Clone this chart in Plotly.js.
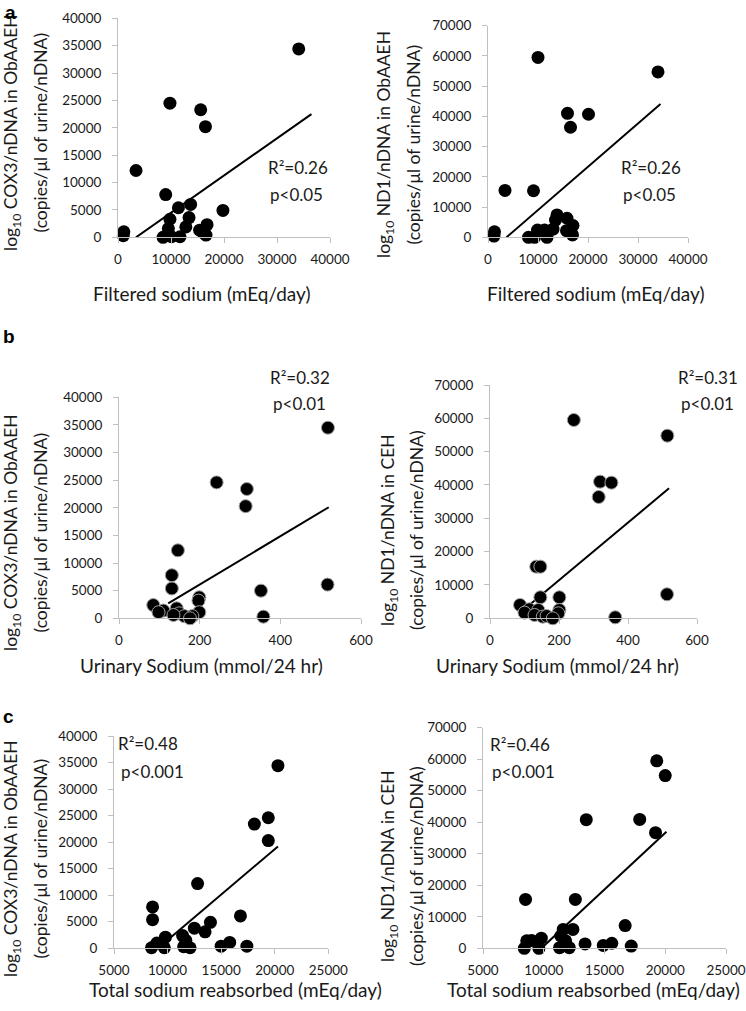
<!DOCTYPE html>
<html>
<head>
<meta charset="utf-8">
<script src="https://cdn.plot.ly/plotly-3.0.1.min.js"></script>
<style>html,body{margin:0;padding:0;background:#fff;}#chart{width:746px;height:1011px;}</style>
</head>
<body>
<div id="chart"></div>
<script>
// ---- Data ----
// Panel a, left: Filtered sodium vs COX3
var aL_x = [34100, 9800, 15600, 16500, 3400, 9000, 11400, 13700, 19800, 13400, 9800, 12800, 16800, 15400, 1100, 1000, 9500, 16100, 8500, 10100, 11700, 16600];
var aL_y = [34400, 24500, 23300, 20200, 12200, 7800, 5400, 6000, 4900, 3600, 3300, 1900, 2300, 1300, 1000, 300, 1600, 800, 0, 100, 100, 400];
var aL_trend_x = [3400, 36500];
var aL_trend_y = [0, 22500];
// Panel a, right: Filtered sodium vs ND1
var aR_x = [10000, 34000, 15900, 20100, 16500, 3400, 9100, 13800, 15800, 13500, 17000, 13000, 9900, 11300, 15700, 1300, 1200, 8100, 9300, 11800, 16900];
var aR_y = [59500, 54700, 41000, 40700, 36400, 15500, 15400, 7400, 6300, 5700, 3900, 2700, 2400, 2400, 2200, 1800, 400, 0, 0, 0, 800];
var aR_trend_x = [3700, 34500];
var aR_trend_y = [0, 44100];
// Panel b, left: Urinary sodium vs COX3
var bL_x = [518, 242, 317, 314, 146, 131, 131, 517, 352, 199, 197, 85, 143, 110, 98, 199, 149, 162, 182, 358, 135, 176];
var bL_y = [34500, 24600, 23400, 20300, 12300, 7800, 5400, 6100, 5000, 3800, 3200, 2400, 1800, 1400, 1100, 1100, 900, 400, 400, 300, 600, 0];
var bL_trend_x = [122, 520];
var bL_trend_y = [2700, 20100];
// Panel b, right: Urinary sodium vs ND1
var bR_x = [243, 514, 319, 352, 315, 134, 146, 146, 201, 513, 87, 114, 140, 201, 198, 100, 129, 153, 164, 182, 363];
var bR_y = [59500, 54800, 41000, 40700, 36400, 15500, 15500, 6300, 6300, 7200, 4000, 2700, 2500, 2500, 1500, 1700, 1000, 500, 700, 0, 300];
var bR_trend_x = [114, 519];
var bR_trend_y = [4000, 39000];
// Panel c, left: Total sodium reabsorbed vs COX3
var cL_x = [20300, 19400, 18100, 19400, 12800, 8600, 8600, 16800, 14000, 12500, 13500, 11400, 9800, 11700, 9000, 15800, 15000, 17400, 8500, 9700, 11500, 12100];
var cL_y = [34400, 24600, 23400, 20300, 12200, 7800, 5400, 6100, 4900, 3800, 3100, 2400, 2100, 1500, 1000, 1100, 400, 400, 100, 100, 300, 100];
var cL_trend_x = [9100, 20300];
var cL_trend_y = [0, 19200];
// Panel c, right: Total sodium reabsorbed vs ND1
var cR_x = [19300, 20000, 13500, 17900, 19200, 8500, 12600, 16700, 11600, 12400, 11400, 8600, 9800, 11800, 13400, 15600, 14900, 17200, 8400, 9600, 11300, 12100, 9000];
var cR_y = [59500, 54800, 40800, 40900, 36700, 15500, 15500, 7200, 6000, 6000, 3900, 2400, 3200, 2400, 1400, 1600, 900, 700, 0, 0, 200, 200, 2500];
var cR_trend_x = [9800, 20100];
var cR_trend_y = [0, 37000];

var panelLetters = ["a", "b", "c"];
var xTitles = ["Filtered sodium (mEq/day)", "Urinary Sodium (mmol/24 hr)", "Total sodium reabsorbed (mEq/day)"];
var yTitleCOX3 = ["log<sub>10</sub> COX3/nDNA in ObAAEH", "(copies/μl of urine/nDNA)"];
var yTitleND1a = ["log<sub>10</sub> ND1/nDNA in ObAAEH", "(copies/μl of urine/nDNA)"];
var yTitleND1 = ["log<sub>10</sub> ND1/nDNA in CEH", "(copies/μl of urine/nDNA)"];
var statsText = [["R²=0.26", "p<0.05"], ["R²=0.26", "p<0.05"], ["R²=0.32", "p<0.01"], ["R²=0.31", "p<0.01"], ["R²=0.48", "p<0.001"], ["R²=0.46", "p<0.001"]];

// ---- Layout geometry (pixels) ----
var W = 746, H = 1011;
var FONT = "Lato, 'Open Sans', sans-serif";
var panels = [
  {x: aL_x, y: aL_y, tx: aL_trend_x, ty: aL_trend_y, px: [118, 330], py: [18.3, 237.3], xr: [0, 40000], xd: 10000, yr: [0, 40000], yd: 5000, outline: false,
   yt: yTitleCOX3, ytx: [12, 39.5], ytc: 133, xt: xTitles[0], xtp: [201.7, 293], st: statsText[0], stp: [298, 168, 296, 194]},
  {x: aR_x, y: aR_y, tx: aR_trend_x, ty: aR_trend_y, px: [488, 688], py: [25.7, 237.3], xr: [0, 40000], xd: 10000, yr: [0, 70000], yd: 10000, outline: false,
   yt: yTitleND1a, ytx: [385, 412.5], ytc: 145, xt: xTitles[0], xtp: [595.5, 293], st: statsText[1], stp: [651, 168, 649, 194]},
  {x: bL_x, y: bL_y, tx: bL_trend_x, ty: bL_trend_y, px: [119, 361], py: [397.3, 618.3], xr: [0, 600], xd: 200, yr: [0, 40000], yd: 5000, outline: true,
   yt: yTitleCOX3, ytx: [12, 39.5], ytc: 533, xt: xTitles[1], xtp: [201, 665], st: statsText[2], stp: [300, 377, 299, 404]},
  {x: bR_x, y: bR_y, tx: bR_trend_x, ty: bR_trend_y, px: [490, 697], py: [385, 618.3], xr: [0, 600], xd: 200, yr: [0, 70000], yd: 10000, outline: true,
   yt: yTitleND1, ytx: [389, 416], ytc: 530, xt: xTitles[1], xtp: [557.5, 665], st: statsText[3], stp: [708, 377, 707, 404]},
  {x: cL_x, y: cL_y, tx: cL_trend_x, ty: cL_trend_y, px: [114, 328.3], py: [736, 948.3], xr: [5000, 25000], xd: 5000, yr: [0, 40000], yd: 5000, outline: false,
   yt: yTitleCOX3, ytx: [12, 39.5], ytc: 859, xt: xTitles[2], xtp: [235, 989], st: statsText[4], stp: [148, 743, 152, 771]},
  {x: cR_x, y: cR_y, tx: cR_trend_x, ty: cR_trend_y, px: [483, 726], py: [727.7, 948.3], xr: [5000, 25000], xd: 5000, yr: [0, 70000], yd: 10000, outline: false,
   yt: yTitleND1, ytx: [389, 416], ytc: 866, xt: xTitles[2], xtp: [593, 989], st: statsText[5], stp: [520, 744, 523, 771]}
];

var traces = [];
var layout = {
  width: W, height: H,
  margin: {l: 0, r: 0, t: 0, b: 0},
  paper_bgcolor: "#fff", plot_bgcolor: "#fff",
  showlegend: false,
  font: {family: FONT, color: "#1a1a1a"},
  annotations: []
};

function fx(px) { return px / W; }
function fy(py) { return 1 - py / H; }

panels.forEach(function (p, i) {
  var n = i + 1;
  var xa = "xaxis" + (n === 1 ? "" : n), ya = "yaxis" + (n === 1 ? "" : n);
  var xr = "x" + (n === 1 ? "" : n), yr = "y" + (n === 1 ? "" : n);
  var axCommon = {
    showgrid: false, zeroline: false, showline: true, linecolor: "#bfbfbf", linewidth: 1,
    ticks: "outside", ticklen: 5, tickcolor: "#bfbfbf", tickwidth: 1,
    tickformat: "d", tickfont: {family: FONT, size: 13.5, color: "#1a1a1a"}, fixedrange: true
  };
  layout[xa] = Object.assign({}, axCommon, {domain: [fx(p.px[0]), fx(p.px[1])], range: p.xr, dtick: p.xd, tick0: p.xr[0], anchor: yr, ticklabelstandoff: 4});
  layout[ya] = Object.assign({}, axCommon, {domain: [fy(p.py[1]), fy(p.py[0])], range: p.yr, dtick: p.yd, tick0: 0, anchor: xr, ticklabelstandoff: 8});

  traces.push({
    type: "scatter", mode: "lines", x: p.tx, y: p.ty, xaxis: xr, yaxis: yr,
    line: {color: "#000", width: 2}, hoverinfo: "skip"
  });
  traces.push({
    type: "scatter", mode: "markers", x: p.x, y: p.y, xaxis: xr, yaxis: yr, cliponaxis: false,
    marker: {color: "#000", size: 13, line: {color: p.outline ? "#a0a0a0" : "#000", width: p.outline ? 1 : 0}}
  });

  // y-axis title (two rotated lines)
  p.yt.forEach(function (t, k) {
    layout.annotations.push({
      xref: "paper", yref: "paper", x: fx(p.ytx[k]), y: fy(p.ytc), xanchor: "center", yanchor: "middle",
      text: t, textangle: -90, showarrow: false, font: {family: FONT, size: 17.5, color: "#1a1a1a"}
    });
  });
  // x-axis title
  layout.annotations.push({
    xref: "paper", yref: "paper", x: fx(p.xtp[0]), y: fy(p.xtp[1]), xanchor: "center", yanchor: "middle",
    text: p.xt, showarrow: false, font: {family: FONT, size: 19, color: "#1a1a1a"}
  });
  // stats
  layout.annotations.push({
    xref: "paper", yref: "paper", x: fx(p.stp[0]), y: fy(p.stp[1]), xanchor: "center", yanchor: "middle",
    text: p.st[0], showarrow: false, font: {family: FONT, size: 17, color: "#1a1a1a"}
  });
  layout.annotations.push({
    xref: "paper", yref: "paper", x: fx(p.stp[2]), y: fy(p.stp[3]), xanchor: "center", yanchor: "middle",
    text: p.st[1], showarrow: false, font: {family: FONT, size: 17, color: "#1a1a1a"}
  });
});

// panel letters
var letterPos = [[10, 13], [9, 337], [8, 716]];
panelLetters.forEach(function (L, k) {
  layout.annotations.push({
    xref: "paper", yref: "paper", x: fx(letterPos[k][0]), y: fy(letterPos[k][1]), xanchor: "center", yanchor: "middle",
    text: "<b>" + L + "</b>", showarrow: false, font: {family: "Liberation Sans, Arial, sans-serif", size: 19, color: "#000"}
  });
});

Plotly.newPlot("chart", traces, layout, {displayModeBar: false, staticPlot: true});
</script>
</body>
</html>
